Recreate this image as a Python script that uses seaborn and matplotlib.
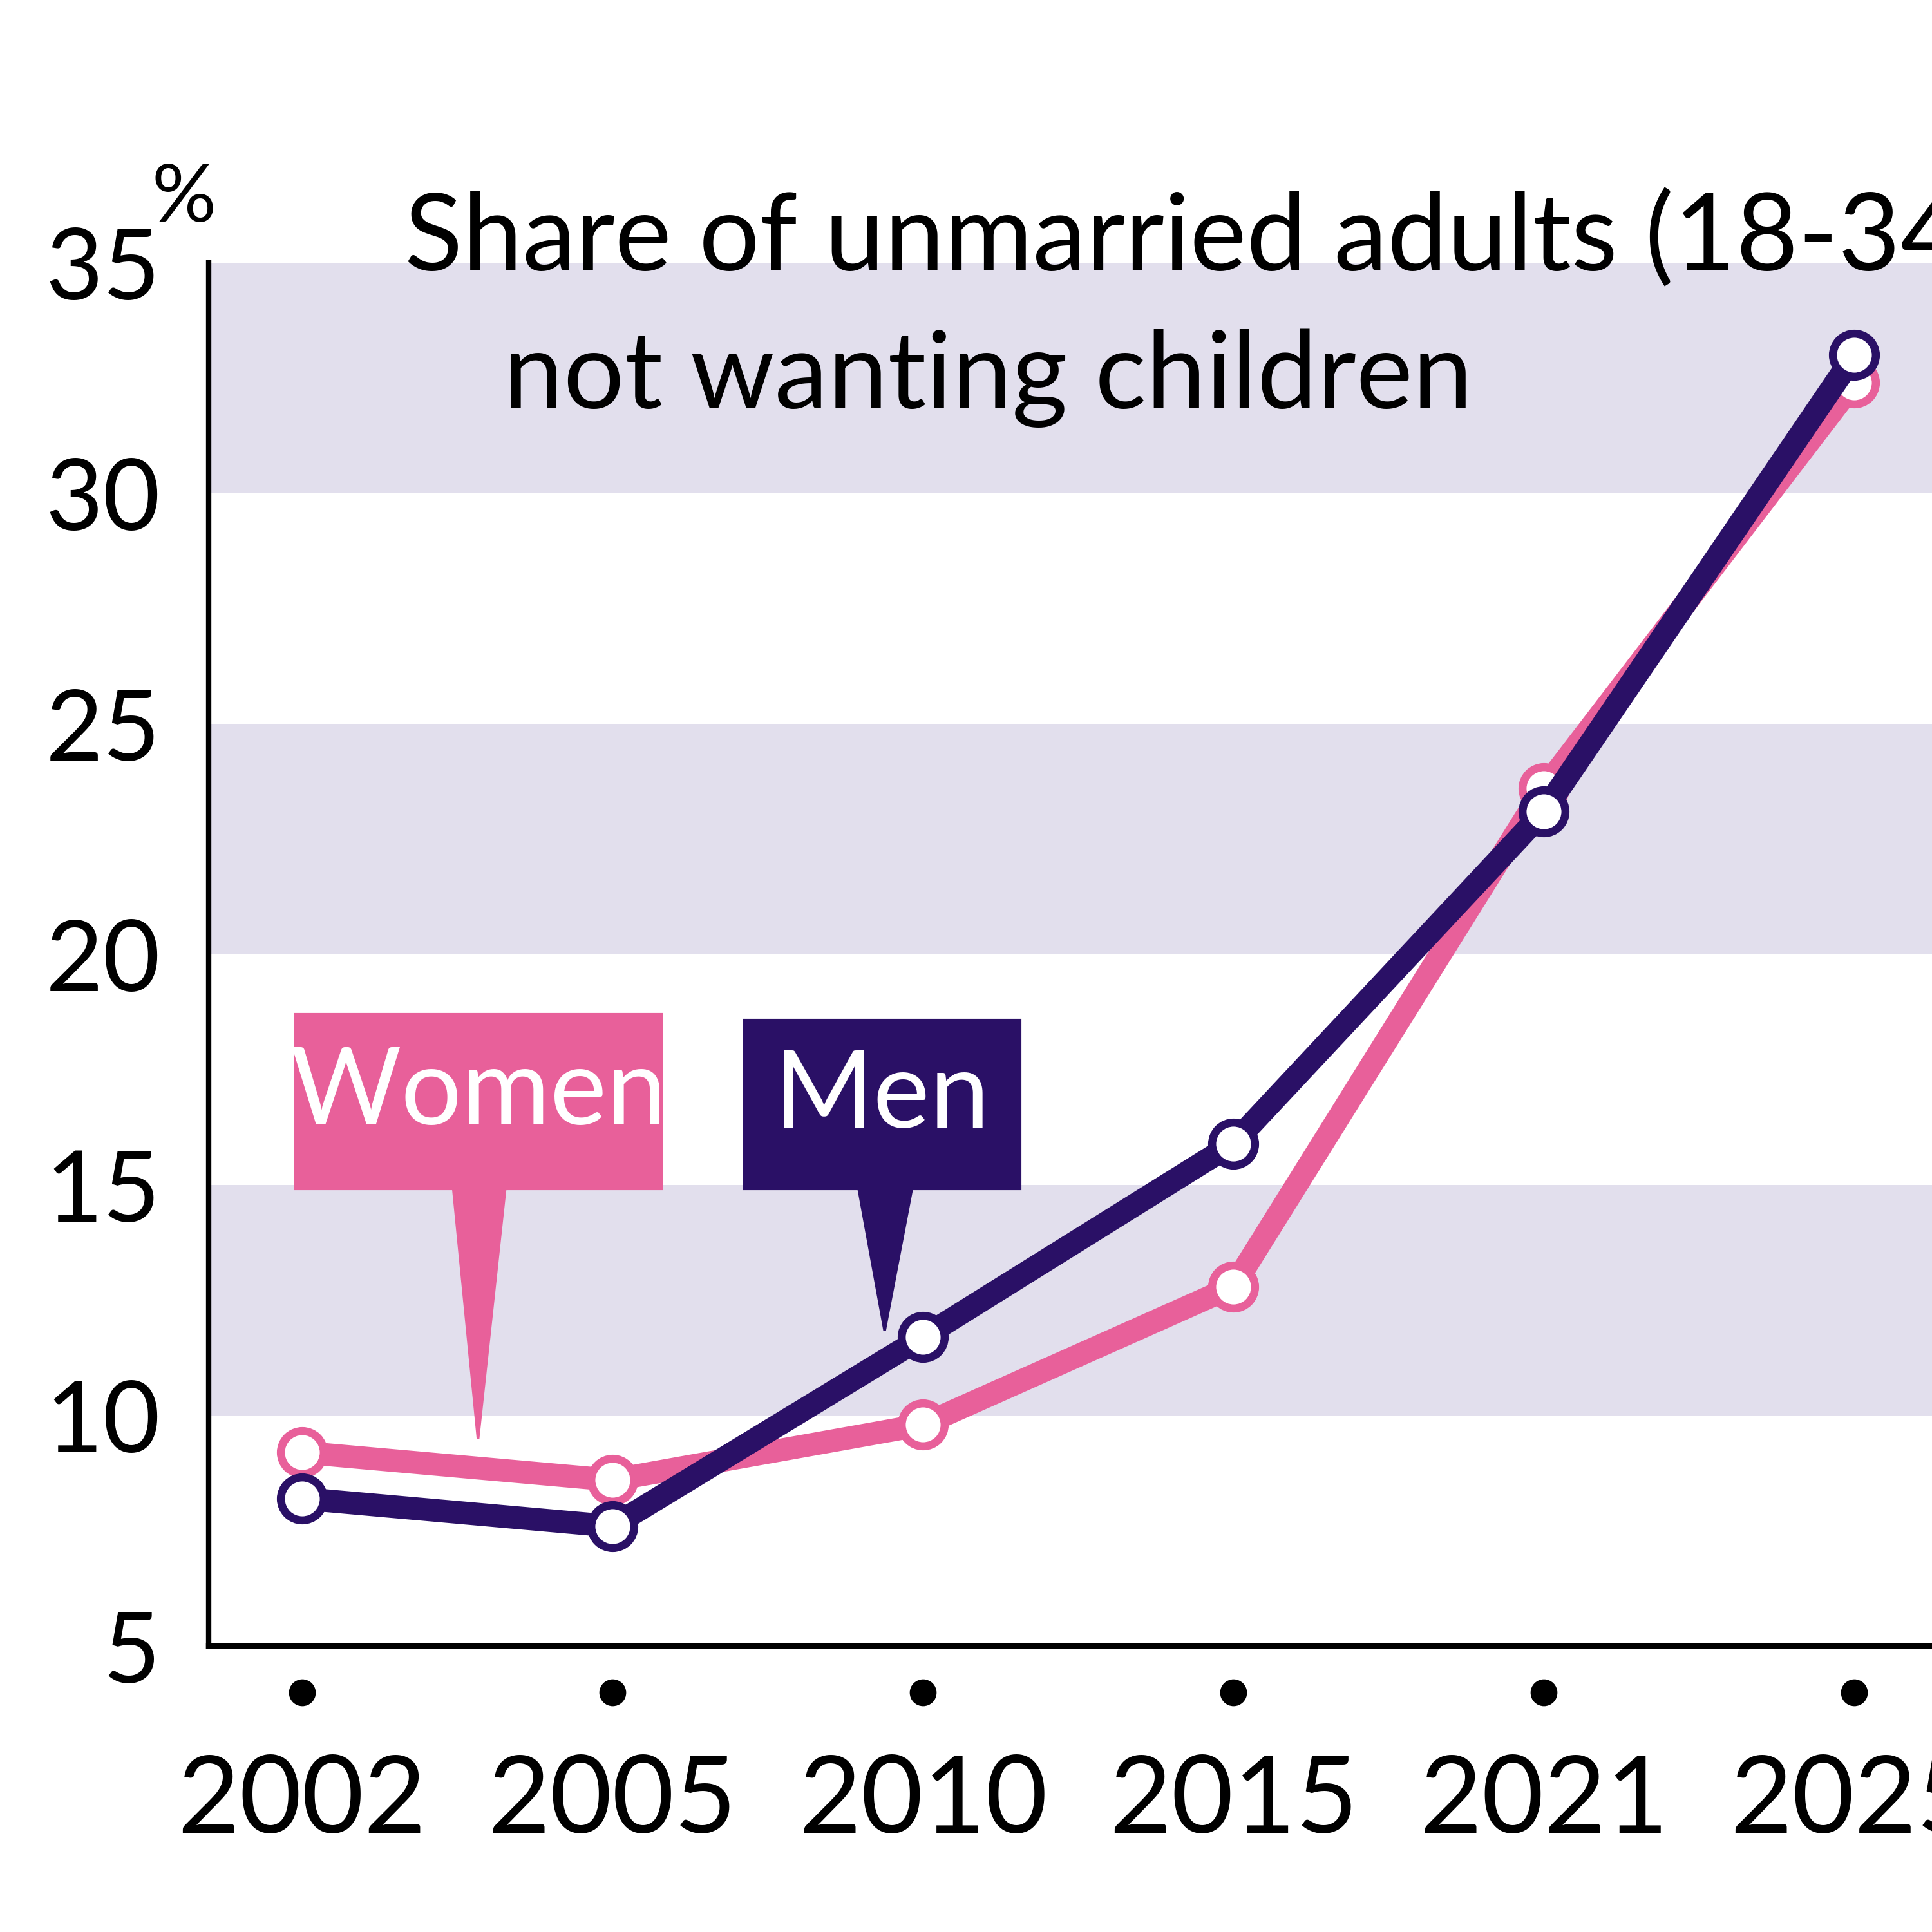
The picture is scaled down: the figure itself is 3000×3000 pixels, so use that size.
import matplotlib
matplotlib.use("Agg")
import matplotlib.pyplot as plt
import seaborn as sns
import pandas as pd
from matplotlib.patches import Polygon, Rectangle

years = ["2002", "2005", "2010", "2015", "2021", "2025"]
women = [9.2, 8.6, 9.8, 12.8, 23.6, 32.4]
men = [8.2, 7.6, 11.7, 15.9, 23.1, 33.0]
yticks = [5, 10, 15, 20, 25, 30, 35]

sns.set_theme(style="white")
plt.rcParams['font.family'] = ['Lato', 'DejaVu Sans']
plt.rcParams['text.color'] = 'black'
plt.rcParams['ytick.color'] = 'black'
plt.rcParams['ytick.labelcolor'] = 'black'

PINK = "#e8609a"
NAVY = "#2a1066"
BAND = "#e2dfed"

fig = plt.figure(figsize=(10, 10), dpi=300)
ax = fig.add_axes([0.108, 0.148, 0.892, 0.716])
idx = list(range(len(years)))
df = pd.DataFrame({"i": idx * 2, "v": women + men,
                   "g": ["Women"] * 6 + ["Men"] * 6})
for lo in (10, 20, 30):
    ax.axhspan(lo, lo + 5, color=BAND, lw=0, zorder=0)
for name, col in (("Women", PINK), ("Men", NAVY)):
    sns.lineplot(data=df[df.g == name], x="i", y="v", ax=ax, color=col,
                 lw=8.5, marker="o", markersize=16, markerfacecolor="white",
                 markeredgecolor=col, markeredgewidth=3, zorder=3)
ax.set_xlim(-0.3, 5.25)
ax.set_ylim(5, 35)
ax.set_yticks(yticks)
ax.set_yticklabels([str(t) for t in yticks], fontsize=37)
ax.tick_params(axis="y", length=16, width=2, color="black", pad=2)
ax.set_xticks(idx)
ax.set_xticklabels([])
ax.tick_params(axis="x", length=0)
for sp in ("top", "right"):
    ax.spines[sp].set_visible(False)
for sp in ("left", "bottom"):
    ax.spines[sp].set_color("black")
    ax.spines[sp].set_linewidth(2)
ax.set_xlabel(""); ax.set_ylabel("")
if ax.get_legend():
    ax.get_legend().remove()

for i, y in enumerate(years):
    ax.plot(i, 4.0, "o", color="black", markersize=9, clip_on=False)
    ax.text(i, 1.6, y, ha="center", va="center", fontsize=40, clip_on=False)

ax.text(-0.38, 35.6, "%", fontsize=30, ha="center", va="bottom")
ax.text(0.33, 35.5, "Share of unmarried adults (18-34)",
        ha="left", va="center", fontsize=40)
ax.text(0.65, 32.5, "not wanting children",
        ha="left", va="center", fontsize=40)

def px(x, y):
    return ((x - 245) / 252.0, 5 + (1336 - y) / 37.43)

def callout(x0, x1, y0, y1, tri, col, label):
    a = px(x0, y1); b = px(x1, y0)
    ax.add_patch(Rectangle(a, b[0] - a[0], b[1] - a[1], color=col, zorder=4))
    ax.add_patch(Polygon([px(*p) for p in tri], closed=True, color=col, zorder=4))
    c = px((x0 + x1) / 2, (y0 + y1) / 2 - 6)
    ax.text(c[0], c[1], label, color="white", fontsize=40, ha="center",
            va="center", zorder=5)

callout(240, 537, 823, 965, [(368, 965), (410, 965), (388, 1168)], PINK, "Women")
callout(604, 828, 828, 965, [(697, 965), (740, 965), (718, 1080)], NAVY, "Men")

fig.savefig("out.png", dpi=300)
